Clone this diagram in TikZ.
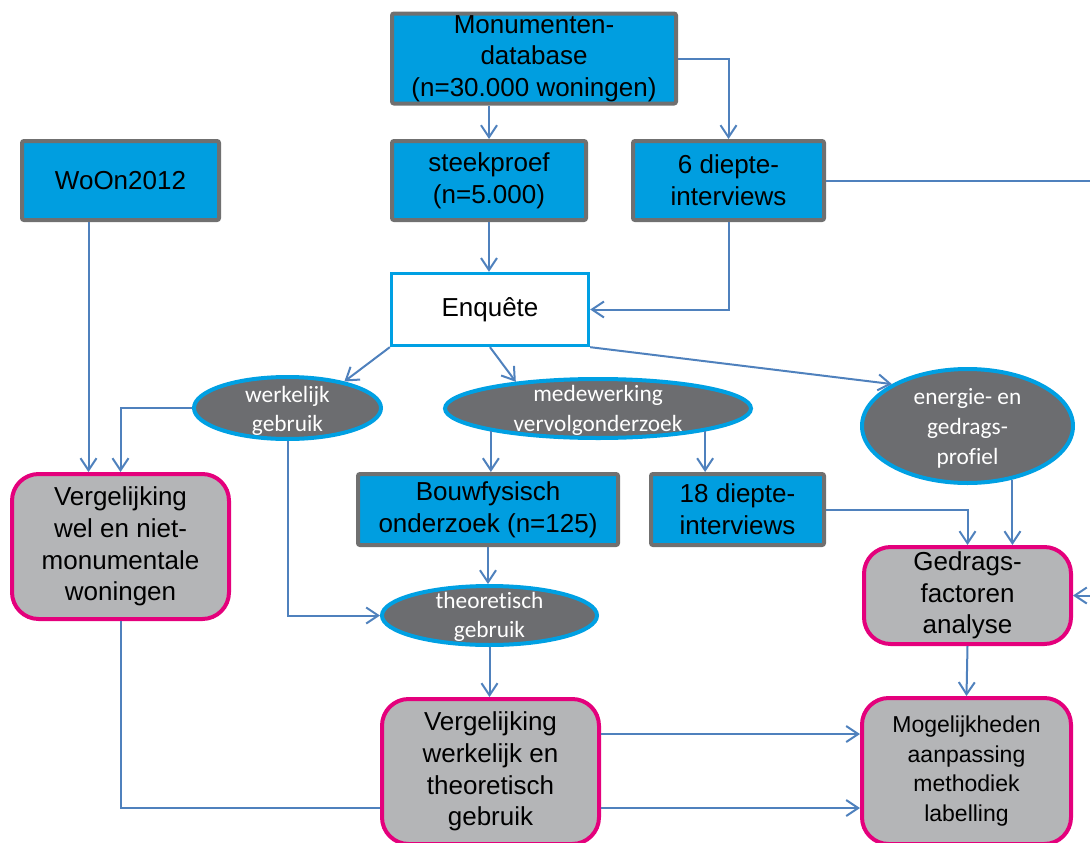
\documentclass[tikz,border=0pt]{standalone}
\usepackage{fontspec}
\setmainfont{Liberation Sans}
\newfontfamily\ellfont[Ligatures=NoCommon]{Carlito}
\usetikzlibrary{arrows.meta,shapes.geometric,calc}
\definecolor{boxblue}{RGB}{0,158,224}
\definecolor{boxgray}{RGB}{112,112,112}
\definecolor{ellfill}{RGB}{108,109,112}
\definecolor{ellblue}{RGB}{0,160,227}
\definecolor{pinkc}{RGB}{228,0,124}
\definecolor{pinkfill}{RGB}{180,181,183}
\definecolor{linec}{RGB}{79,129,189}
\begin{document}
\begin{tikzpicture}[x=0.75pt,y=-0.75pt,
  sz/.style 2 args={minimum width=#1pt, minimum height=#2pt},
  boxfont/.style={font=\fontsize{19.5pt}{23.75pt}\selectfont},
  bluebox/.style={draw=boxgray, line width=3pt, fill=boxblue, rounded corners=1.5pt, inner sep=0pt, align=center, boxfont},
  whitebox/.style={draw=ellblue, line width=2.5pt, fill=white, inner sep=0pt, align=center, boxfont},
  pinkbox/.style={draw=pinkc, line width=3pt, fill=pinkfill, rounded corners=20pt, inner sep=0pt, align=center, boxfont},
  ell/.style={ellipse, draw=ellblue, line width=3pt, fill=ellfill, inner sep=0pt},
  elltext/.style={text=white, align=center, inner sep=0pt, font=\ellfont\fontsize{17.5pt}{22pt}\selectfont},
  conn/.style={draw=linec, line width=1.5pt},
  arr/.style={conn, -{Straight Barb[length=9pt,width=12pt]}}
]
\useasboundingbox (0,0) rectangle (1090,843);
\clip (0,0) rectangle (1090,843);

% boxes
\node[bluebox, sz={213}{67.5}] (mon) at (534,58.5) {Monumenten-\\database\\(n=30.000 woningen)};
\node[bluebox, sz={145.5}{59.25}] (stk) at (489,180.5) {steekproef\\(n=5.000)};
\node[bluebox, sz={143.25}{59.25}] (d6) at (728.5,180.5) {6 diepte-\\interviews};
\node[bluebox, sz={147.75}{59.25}] (woon) at (120.5,180.5) {WoOn2012};
\node[whitebox, sz={147.75}{54}] (enq) at (490,309.5) {Enquête};

\node[ell, sz={140.25}{46.5}] (werk) at (287.5,408) {};
\node[elltext] (werkT) at ([yshift=-2pt]werk.center) {werkelijk\\gebruik};
\node[ell, sz={229.5}{44.25}] (med) at (598,408.5) {};
\node[elltext] (medT) at ([yshift=-1.5pt]med.center) {medewerking\\vervolgonderzoek};
\node[ell, sz={158.25}{85.5}] (ene) at (967.5,426) {};
\node[elltext, font=\ellfont\fontsize{17.5pt}{22.5pt}\selectfont] (eneT) at ([yshift=-1.5pt]ene.center) {energie- en\\gedrags-\\profiel};

\node[pinkbox, sz={162.75}{108.75}] (verg1) at (120.5,546.5) {Vergelijking\\wel en niet-\\monumentale\\woningen};
\node[bluebox, sz={195}{53.25}] (bouw) at (488,509.5) {Bouwfysisch\\onderzoek (n=125)};
\node[bluebox, sz={129.75}{53.25}] (d18) at (737.5,509.5) {18 diepte-\\interviews};
\node[pinkbox, sz={155.25}{72.75}] (ged) at (967.5,595.5) {Gedrags-\\factoren\\analyse};

\node[ell, sz={161.25}{44.25}] (theo) at (489.5,615.5) {};
\node[elltext] (theoT) at ([yshift=-1pt]theo.center) {theoretisch\\gebruik};

\node[pinkbox, sz={162.75}{108.75}] (verg2) at (490.5,771.5) {Vergelijking\\werkelijk en\\theoretisch\\gebruik};
\node[pinkbox, sz={156.75}{109.5}, font=\fontsize{17.25pt}{22.3pt}\selectfont] (mog) at (966.5,771) {Mogelijkheden\\aanpassing\\methodiek\\labelling};

% helper coordinates
\coordinate (w1) at ([xshift=-24pt]woon.south);
\coordinate (rt) at (1120,0);
\coordinate (v2a) at ([yshift=28.1pt]verg2.east);
\coordinate (v2b) at ([yshift=-27.4pt]verg2.east);

% connectors
\draw[arr] (mon.south -| stk.north) -- (stk.north);
\draw[arr] (mon.east) -| (d6.north);
\draw[arr] (stk.south) -- (stk.south |- enq.north);
\draw[arr] (d6.south) |- (enq.east);
\draw[arr] (w1) -- (w1 |- verg1.north);
\draw[arr] (werk.west) -| (verg1.north);
\draw[arr] (enq.south west) -- (werk.25);
\draw[arr] (enq.south) -- (med.162);
\draw[arr] (enq.south east) -- (ene.151);
\draw[arr] (werk.south) |- (theo.west);
\draw[arr] (med.-168) -- (med.-168 |- bouw.north);
\draw[arr] (med.-12) -- (med.-12 |- d18.north);
\draw[arr] (bouw.south) -- (bouw.south |- theo.north);
\draw[arr] (theo.south) -- (theo.south |- verg2.north);
\draw[arr] (d18.east) -| (ged.north);
\draw[arr] (ene.-50) -- (ene.-50 |- ged.north);
\draw[arr] (d6.east) -- (d6.east -| rt) |- (ged.east);
\draw[arr] (ged.south) -- (mog.north);
\draw[arr] (v2a) -- (v2a -| mog.west);
\draw[arr] (v2b) -- (v2b -| mog.west);
\draw[conn] (verg1.south) |- (v2b -| verg2.west);
\end{tikzpicture}
\end{document}
